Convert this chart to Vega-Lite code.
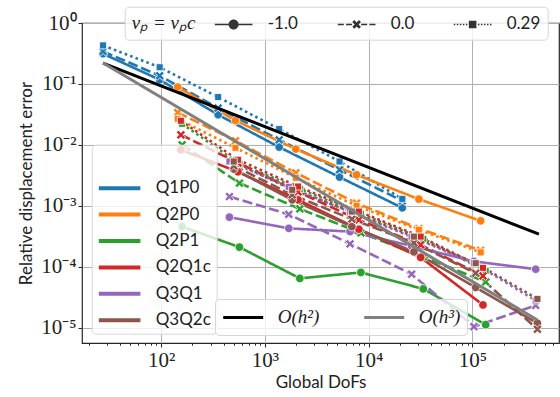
{
"$schema": "https://vega.github.io/schema/vega-lite/v6.json",
"width": 477, "height": 320,
"autosize": {"type": "none"},
"padding": {"left": 82, "top": 23, "right": 1, "bottom": 54},
"background": "white",
"datasets": {
"series": [
{"element":"Q1P0","nu":"-1.0","dofs":27.6,"err":0.3133},{"element":"Q1P0","nu":"-1.0","dofs":96.9,"err":0.1172},{"element":"Q1P0","nu":"-1.0","dofs":354.6,"err":0.03121},{"element":"Q1P0","nu":"-1.0","dofs":1373,"err":0.009203},{"element":"Q1P0","nu":"-1.0","dofs":5241,"err":0.00296},{"element":"Q1P0","nu":"-1.0","dofs":21090,"err":0.000927},
{"element":"Q1P0","nu":"0.0","dofs":27.6,"err":0.3418},{"element":"Q1P0","nu":"0.0","dofs":96.9,"err":0.1364},{"element":"Q1P0","nu":"0.0","dofs":354.6,"err":0.04021},{"element":"Q1P0","nu":"0.0","dofs":1373,"err":0.01213},{"element":"Q1P0","nu":"0.0","dofs":5241,"err":0.003901},{"element":"Q1P0","nu":"0.0","dofs":21090,"err":0.001208},
{"element":"Q1P0","nu":"0.29","dofs":27.6,"err":0.4287},{"element":"Q1P0","nu":"0.29","dofs":96.9,"err":0.188},{"element":"Q1P0","nu":"0.29","dofs":354.6,"err":0.06093},{"element":"Q1P0","nu":"0.29","dofs":1373,"err":0.01818},{"element":"Q1P0","nu":"0.29","dofs":5241,"err":0.005338},{"element":"Q1P0","nu":"0.29","dofs":21090,"err":0.001302},
{"element":"Q2P0","nu":"-1.0","dofs":144.6,"err":0.08894},{"element":"Q2P0","nu":"-1.0","dofs":520.6,"err":0.02517},{"element":"Q2P0","nu":"-1.0","dofs":1986,"err":0.008531},{"element":"Q2P0","nu":"-1.0","dofs":7643,"err":0.003228},{"element":"Q2P0","nu":"-1.0","dofs":30490,"err":0.001288},{"element":"Q2P0","nu":"-1.0","dofs":119900,"err":0.000567},
{"element":"Q2P0","nu":"0.0","dofs":144.6,"err":0.03404},{"element":"Q2P0","nu":"0.0","dofs":520.6,"err":0.01168},{"element":"Q2P0","nu":"0.0","dofs":1986,"err":0.003482},{"element":"Q2P0","nu":"0.0","dofs":7643,"err":0.001107},{"element":"Q2P0","nu":"0.0","dofs":30490,"err":0.000424},{"element":"Q2P0","nu":"0.0","dofs":119900,"err":0.000186},
{"element":"Q2P0","nu":"0.29","dofs":144.6,"err":0.02683},{"element":"Q2P0","nu":"0.29","dofs":520.6,"err":0.008963},{"element":"Q2P0","nu":"0.29","dofs":1986,"err":0.002884},{"element":"Q2P0","nu":"0.29","dofs":7643,"err":0.001},{"element":"Q2P0","nu":"0.29","dofs":30490,"err":0.000404},{"element":"Q2P0","nu":"0.29","dofs":119900,"err":0.0001724},
{"element":"Q2P1","nu":"-1.0","dofs":159.4,"err":0.000457},{"element":"Q2P1","nu":"-1.0","dofs":568.9,"err":0.00021},{"element":"Q2P1","nu":"-1.0","dofs":2170,"err":0.0000645},{"element":"Q2P1","nu":"-1.0","dofs":8410,"err":0.0000809},{"element":"Q2P1","nu":"-1.0","dofs":33610,"err":0.0000434},{"element":"Q2P1","nu":"-1.0","dofs":134100,"err":0.00001124},
{"element":"Q2P1","nu":"0.0","dofs":159.4,"err":0.01005},{"element":"Q2P1","nu":"0.0","dofs":568.9,"err":0.002359},{"element":"Q2P1","nu":"0.0","dofs":2170,"err":0.000893},{"element":"Q2P1","nu":"0.0","dofs":8410,"err":0.00036},{"element":"Q2P1","nu":"0.0","dofs":33610,"err":0.0001454},{"element":"Q2P1","nu":"0.0","dofs":134100,"err":0.0000565},
{"element":"Q2P1","nu":"0.29","dofs":159.4,"err":0.02221},{"element":"Q2P1","nu":"0.29","dofs":568.9,"err":0.004894},{"element":"Q2P1","nu":"0.29","dofs":2170,"err":0.001902},{"element":"Q2P1","nu":"0.29","dofs":8410,"err":0.000739},{"element":"Q2P1","nu":"0.29","dofs":33610,"err":0.000287},{"element":"Q2P1","nu":"0.29","dofs":134100,"err":0.0000856},
{"element":"Q2Q1c","nu":"-1.0","dofs":155.2,"err":0.008309},{"element":"Q2Q1c","nu":"-1.0","dofs":550.4,"err":0.003617},{"element":"Q2Q1c","nu":"-1.0","dofs":2085,"err":0.001254},{"element":"Q2Q1c","nu":"-1.0","dofs":8044,"err":0.000414},{"element":"Q2Q1c","nu":"-1.0","dofs":31660,"err":0.0001427},{"element":"Q2Q1c","nu":"-1.0","dofs":126300,"err":0.00002368},
{"element":"Q2Q1c","nu":"0.0","dofs":155.2,"err":0.01465},{"element":"Q2Q1c","nu":"0.0","dofs":550.4,"err":0.00508},{"element":"Q2Q1c","nu":"0.0","dofs":2085,"err":0.001698},{"element":"Q2Q1c","nu":"0.0","dofs":8044,"err":0.000589},{"element":"Q2Q1c","nu":"0.0","dofs":31660,"err":0.000229},{"element":"Q2Q1c","nu":"0.0","dofs":126300,"err":0.0000709},
{"element":"Q2Q1c","nu":"0.29","dofs":155.2,"err":0.02487},{"element":"Q2Q1c","nu":"0.29","dofs":550.4,"err":0.005692},{"element":"Q2Q1c","nu":"0.29","dofs":2085,"err":0.002074},{"element":"Q2Q1c","nu":"0.29","dofs":8044,"err":0.000806},{"element":"Q2Q1c","nu":"0.29","dofs":31660,"err":0.000313},{"element":"Q2Q1c","nu":"0.29","dofs":126300,"err":0.0000959},
{"element":"Q3Q1","nu":"-1.0","dofs":455.6,"err":0.000652},{"element":"Q3Q1","nu":"-1.0","dofs":1700,"err":0.000427},{"element":"Q3Q1","nu":"-1.0","dofs":6616,"err":0.000378},{"element":"Q3Q1","nu":"-1.0","dofs":25920,"err":0.00022},{"element":"Q3Q1","nu":"-1.0","dofs":103400,"err":0.0001226},{"element":"Q3Q1","nu":"-1.0","dofs":406800,"err":0.0000913},
{"element":"Q3Q1","nu":"0.0","dofs":455.6,"err":0.001421},{"element":"Q3Q1","nu":"0.0","dofs":1700,"err":0.000725},{"element":"Q3Q1","nu":"0.0","dofs":6616,"err":0.000238},{"element":"Q3Q1","nu":"0.0","dofs":25920,"err":0.0000756},{"element":"Q3Q1","nu":"0.0","dofs":103400,"err":0.00001042},{"element":"Q3Q1","nu":"0.0","dofs":406800,"err":0.00002324},
{"element":"Q3Q1","nu":"0.29","dofs":455.6,"err":0.005338},{"element":"Q3Q1","nu":"0.29","dofs":1700,"err":0.002051},{"element":"Q3Q1","nu":"0.29","dofs":6616,"err":0.000797},{"element":"Q3Q1","nu":"0.29","dofs":25920,"err":0.00031},{"element":"Q3Q1","nu":"0.29","dofs":103400,"err":0.0001146},{"element":"Q3Q1","nu":"0.29","dofs":406800,"err":0.000028},
{"element":"Q3Q2c","nu":"-1.0","dofs":501.2,"err":0.004005},{"element":"Q3Q2c","nu":"-1.0","dofs":1834,"err":0.001254},{"element":"Q3Q2c","nu":"-1.0","dofs":6887,"err":0.000457},{"element":"Q3Q2c","nu":"-1.0","dofs":27290,"err":0.0001757},{"element":"Q3Q2c","nu":"-1.0","dofs":107400,"err":0.0000459},{"element":"Q3Q2c","nu":"-1.0","dofs":422500,"err":0.00001186},
{"element":"Q3Q2c","nu":"0.0","dofs":501.2,"err":0.004537},{"element":"Q3Q2c","nu":"0.0","dofs":1834,"err":0.001516},{"element":"Q3Q2c","nu":"0.0","dofs":6887,"err":0.000605},{"element":"Q3Q2c","nu":"0.0","dofs":27290,"err":0.000247},{"element":"Q3Q2c","nu":"0.0","dofs":107400,"err":0.0000785},{"element":"Q3Q2c","nu":"0.0","dofs":422500,"err":0.00000945},
{"element":"Q3Q2c","nu":"0.29","dofs":501.2,"err":0.005338},{"element":"Q3Q2c","nu":"0.29","dofs":1834,"err":0.001831},{"element":"Q3Q2c","nu":"0.29","dofs":6887,"err":0.000806},{"element":"Q3Q2c","nu":"0.29","dofs":27290,"err":0.000313},{"element":"Q3Q2c","nu":"0.29","dofs":107400,"err":0.0001146},{"element":"Q3Q2c","nu":"0.29","dofs":422500,"err":0.0000297}
],
"refs": [
{"ref":"O(h²)","dofs":27.6,"err":0.2203},{"ref":"O(h²)","dofs":437000,"err":0.000343},
{"ref":"O(h³)","dofs":27.6,"err":0.2203},{"ref":"O(h³)","dofs":422500,"err":0.0000134}
]
},
"config": {
"view": {"stroke": "#262626", "strokeWidth": 1.2},
"axis": {"grid": true, "gridColor": "#b0b0b0", "gridWidth": 1, "domain": false, "tickColor": "#262626", "tickSize": 4, "tickWidth": 1, "labelFont": "Liberation Serif", "labelFontSize": 21, "labelColor": "#222222", "titleFont": "Lato", "titleFontSize": 17, "titleFontWeight": "normal", "titleColor": "#222222", "labelPadding": 2},
"legend": {"orient": "none", "strokeColor": "#d6d6d6", "fillColor": "rgba(255,255,255,0.8)", "cornerRadius": 4, "labelFont": "Lato", "labelFontSize": 17, "labelColor": "#222222"}
},
"layer": [
{
"data": {"name": "series"},
"encoding": {
"x": {"field": "dofs", "type": "quantitative", "scale": {"type": "log", "domain": [17.3, 682000], "nice": false}, "axis": {"values": [100, 1000, 10000, 100000], "labelExpr": "datum.value < 500 ? '10²' : datum.value < 5000 ? '10³' : datum.value < 50000 ? '10⁴' : '10⁵'", "title": "Global DoFs", "orient": "bottom", "titlePadding": 4}},
"y": {"field": "err", "type": "quantitative", "scale": {"type": "log", "domain": [0.00000562, 1], "nice": false}, "axis": {"values": [1, 0.1, 0.01, 0.001, 0.0001, 0.00001], "labelExpr": "datum.value >= 0.5 ? '10⁰' : datum.value >= 0.05 ? '10⁻¹' : datum.value >= 0.005 ? '10⁻²' : datum.value >= 0.0005 ? '10⁻³' : datum.value >= 0.00005 ? '10⁻⁴' : '10⁻⁵'", "title": "Relative displacement error", "titlePadding": 5}},
"color": {"field": "element", "type": "nominal", "scale": {"domain": ["Q1P0", "Q2P0", "Q2P1", "Q2Q1c", "Q3Q1", "Q3Q2c"], "range": ["#1f77b4", "#ff7f0e", "#2ca02c", "#d62728", "#9467bd", "#8c564b"]},
"legend": {"title": " ", "titleFontSize": 20, "titlePadding": 6, "symbolType": "M-1,0H3", "symbolSize": 433, "symbolStrokeWidth": 4, "labelOffset": 34, "rowPadding": 5.4, "padding": 5, "legendX": 9.7, "legendY": 121.7, "zindex": 1}}
},
"layer": [
{
"mark": {"type": "line", "strokeWidth": 2.6},
"encoding": {
"strokeDash": {"field": "nu", "type": "nominal", "scale": {"domain": ["-1.0", "0.0", "0.29"], "range": [[1, 0], [10, 3.8], [2.6, 3.2]]}, "legend": null}
}
},
{
"mark": {"type": "point", "filled": true, "opacity": 1, "stroke": "white", "strokeWidth": 0.8, "size": 100},
"encoding": {
"shape": {"field": "nu", "type": "nominal", "scale": {"domain": ["-1.0", "0.0", "0.29"], "range": ["M0.86,0A0.86,0.86,0,1,1,-0.86,0A0.86,0.86,0,1,1,0.86,0Z", "M0.919,-0.495L0.424,0L0.919,0.495L0.495,0.919L0,0.424L-0.495,0.919L-0.919,0.495L-0.424,0L-0.919,-0.495L-0.495,-0.919L0,-0.424L0.495,-0.919Z", "M-0.7,-0.7H0.7V0.7H-0.7Z"]}, "legend": null}
}
}
]
},
{
"data": {"name": "series"},
"transform": [{"filter": "datum.dofs < 0"}],
"mark": {"type": "point", "filled": true, "opacity": 1, "color": "#333333", "size": 355},
"encoding": {
"shape": {
"field": "nu", "type": "nominal",
"scale": {"domain": ["-1.0", "0.0", "0.29"], "range": [
"M-1,-0.085H0.47V0.085H-1ZM1.53,-0.085H3V0.085H1.53ZM1.53,0A0.53,0.53,0,1,1,0.47,0A0.53,0.53,0,1,1,1.53,0Z",
"M-1,-0.085H-0.36V0.085H-1ZM-0.12,-0.085H0.52V0.085H-0.12ZM1.48,-0.085H2.12V0.085H1.48ZM2.36,-0.085H3V0.085H2.36ZM1.46,-0.247L1.212,0L1.46,0.247L1.247,0.46L1,0.212L0.753,0.46L0.54,0.247L0.788,0L0.54,-0.247L0.753,-0.46L1,-0.212L1.247,-0.46Z",
"M-1,-0.085H-0.84V0.085H-1ZM-0.68,-0.085H-0.52V0.085H-0.68ZM-0.36,-0.085H-0.2V0.085H-0.36ZM-0.04,-0.085H0.12V0.085H-0.04ZM0.28,-0.085H0.44V0.085H0.28ZM1.56,-0.085H1.72V0.085H1.56ZM1.88,-0.085H2.04V0.085H1.88ZM2.2,-0.085H2.36V0.085H2.2ZM2.52,-0.085H2.68V0.085H2.52ZM2.84,-0.085H3V0.085H2.84ZM0.6,-0.4H1.4V0.4H0.6Z"]},
"legend": {"title": "νₚ = νₚc", "titleFont": "Liberation Serif", "titleFontStyle": "italic", "titleFontSize": 19, "titleFontWeight": "normal", "titleOrient": "left", "titlePadding": 18, "titleColor": "#222222", "direction": "horizontal", "columns": 3, "columnPadding": 36, "symbolSize": 355, "symbolFillColor": "#333333", "symbolOpacity": 1, "labelOffset": 33, "padding": 7, "legendX": 42.7, "legendY": -16.3, "zindex": 1}
}
}
},
{
"data": {"name": "refs"},
"mark": {"type": "line", "strokeWidth": 3},
"encoding": {
"x": {"field": "dofs", "type": "quantitative", "scale": {"type": "log", "domain": [17.3, 682000], "nice": false}, "axis": {"values": [20,30,40,50,60,70,80,90,200,300,400,500,600,700,800,900,2000,3000,4000,5000,6000,7000,8000,9000,20000,30000,40000,50000,60000,70000,80000,90000,200000,300000,400000,500000,600000], "labels": false, "grid": false, "title": null, "orient": "bottom", "tickSize": 2.2}},
"y": {"field": "err", "type": "quantitative", "scale": {"type": "log", "domain": [0.00000562, 1], "nice": false}, "axis": {"values": [1, 0.1, 0.01, 0.001, 0.0001, 0.00001], "labelExpr": "datum.value >= 0.5 ? '10⁰' : datum.value >= 0.05 ? '10⁻¹' : datum.value >= 0.005 ? '10⁻²' : datum.value >= 0.0005 ? '10⁻³' : datum.value >= 0.00005 ? '10⁻⁴' : '10⁻⁵'", "title": "Relative displacement error", "titlePadding": 5}},
"stroke": {"field": "ref", "type": "nominal", "scale": {"domain": ["O(h²)", "O(h³)"], "range": ["#000000", "#808080"]},
"legend": {"title": null, "direction": "horizontal", "columns": 2, "columnPadding": 38, "symbolType": "M-1,0H3", "symbolSize": 400, "symbolStrokeWidth": 3, "labelOffset": 33, "labelFont": "Liberation Serif", "labelFontStyle": "italic", "labelFontSize": 19, "padding": 6.7, "legendX": 133, "legendY": 276, "zindex": 1}}
}
}
],
"resolve": {"scale": {"shape": "independent"}, "axis": {"x": "independent"}}
}
